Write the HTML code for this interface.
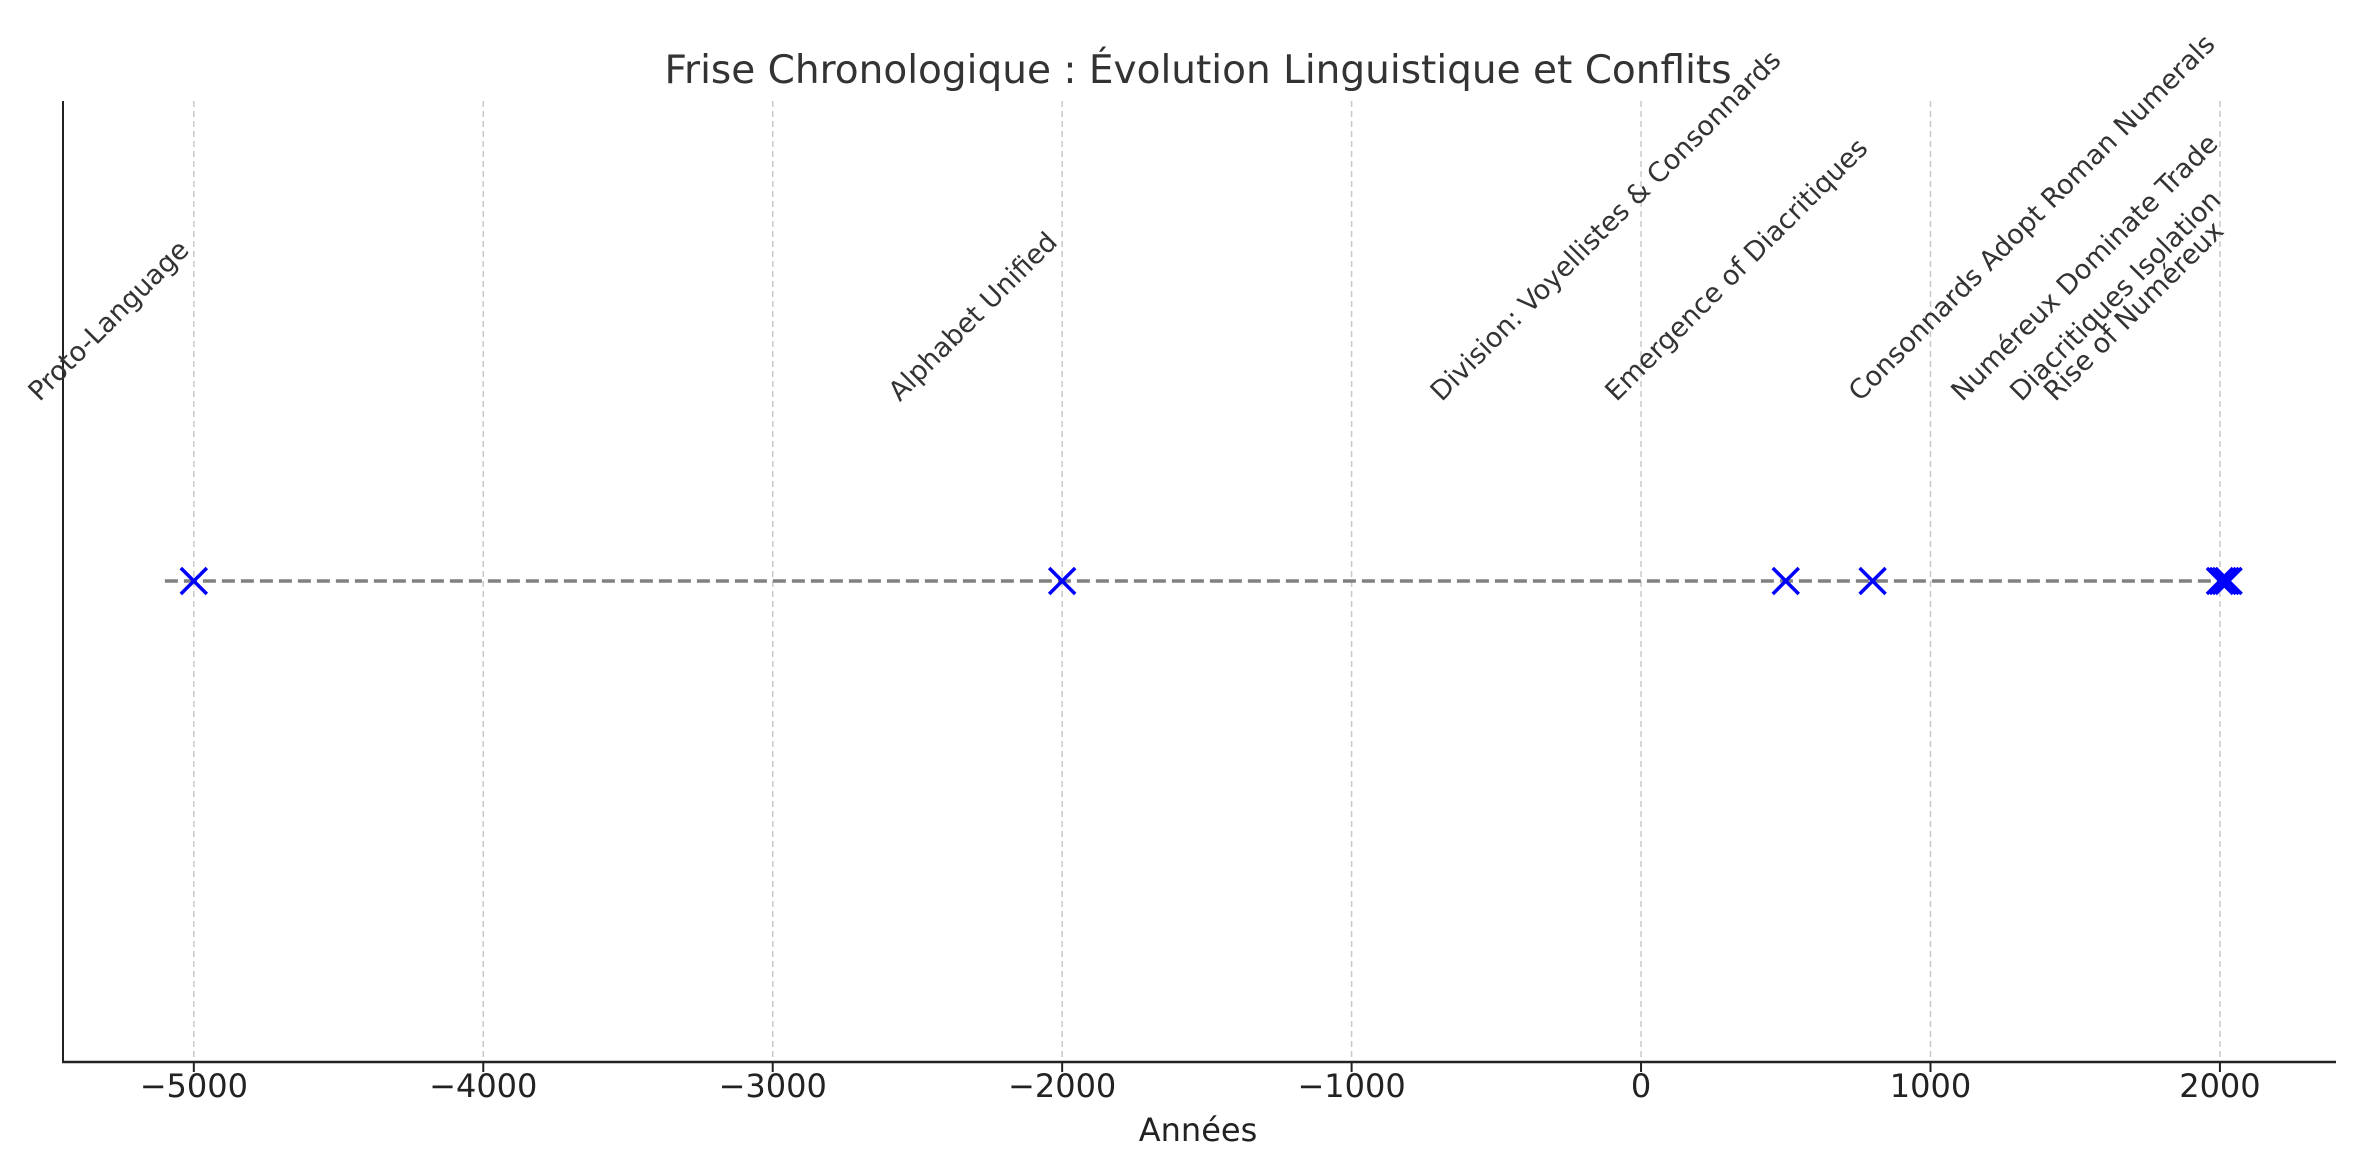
<!DOCTYPE html>
<html><head><meta charset="utf-8"><style>
html,body{margin:0;padding:0;background:#fff}
svg{display:block;font-family:"DejaVu Sans","Liberation Sans",sans-serif}
</style></head><body>
<svg id="chart" width="2355" height="1168" viewBox="0 0 2355 1168">
<text x="1198" y="83" font-size="39" fill="#333" text-anchor="middle">Frise Chronologique : Évolution Linguistique et Conflits</text>
<g id="grid"></g>
<g id="ticks"></g>
<line x1="63" y1="101" x2="63" y2="1062" stroke="#222" stroke-width="2"/>
<line x1="62" y1="1062" x2="2336" y2="1062" stroke="#222" stroke-width="2.5"/>
<g id="marks"></g>
<g id="labels"></g>
<text x="1198" y="1141" font-size="32" fill="#222" text-anchor="middle">Années</text>
</svg>
<script>
const tickValues=[-5000,-4000,-3000,-2000,-1000,0,1000,2000];
const tickLabels=["−5000","−4000","−3000","−2000","−1000","0","1000","2000"];
const eventYears=[-5000,-2000,500,800,2000,2010,2020,2030];
const eventLabels=["Proto-Language","Alphabet Unified","Division: Voyellistes & Consonnards","Emergence of Diacritiques","Consonnards Adopt Roman Numerals","Numéreux Dominate Trade","Diacritiques Isolation","Rise of Numéreux"];
const NS="http://www.w3.org/2000/svg";
const X0=-5452,X1=2401,PX0=63,PX1=2336;
function x(v){return PX0+(v-X0)/(X1-X0)*(PX1-PX0);}
const yLine=581, labelBottom=407;
function mk(t,a,p){const e=document.createElementNS(NS,t);for(const k in a)e.setAttribute(k,a[k]);p.appendChild(e);return e;}
const grid=document.getElementById('grid'),ticks=document.getElementById('ticks');
tickValues.forEach((v,i)=>{
  const g=mk('line',{x1:x(v),x2:x(v),y1:101,y2:1062,stroke:'#c8c8c8','stroke-width':1.5,'stroke-dasharray':'6,4'},grid);
  
  
  const t=mk('line',{x1:x(v),x2:x(v),y1:1062,y2:1072,stroke:'#222','stroke-width':2},ticks);
  
  
  const l=mk('text',{x:x(v),y:1097,'font-size':32,fill:'#222','text-anchor':'middle'},ticks);
  l.textContent=tickLabels[i];
  
  
});
const marks=document.getElementById('marks');
const mn=Math.min(...eventYears),mx=Math.max(...eventYears);
const ln=mk('line',{x1:x(mn-100),x2:x(mx),y1:yLine,y2:yLine,stroke:'#808080','stroke-width':3.5,'stroke-dasharray':'13,6'},marks);


eventYears.forEach(v=>{
  const cx=x(v),s=13;
  const p=mk('path',{d:`M${cx-s},${yLine-s}L${cx+s},${yLine+s}M${cx-s},${yLine+s}L${cx+s},${yLine-s}`,stroke:'#0000ff','stroke-width':3.5,fill:'none'},marks);
  
  
});
const labels=document.getElementById('labels');
const fs=27,desc=0.24*fs,c=Math.SQRT1_2;
eventYears.forEach((v,i)=>{
  const t=mk('text',{'font-size':fs,fill:'#333','text-anchor':'end'},labels);
  t.textContent=eventLabels[i];
  
  
  const L=t.getComputedTextLength();
  const px=x(v)-0.35*fs+6, py=labelBottom-c*(L+desc);
  t.setAttribute('transform',`translate(${px},${py}) rotate(-45)`);
});
</script>
</body></html>
